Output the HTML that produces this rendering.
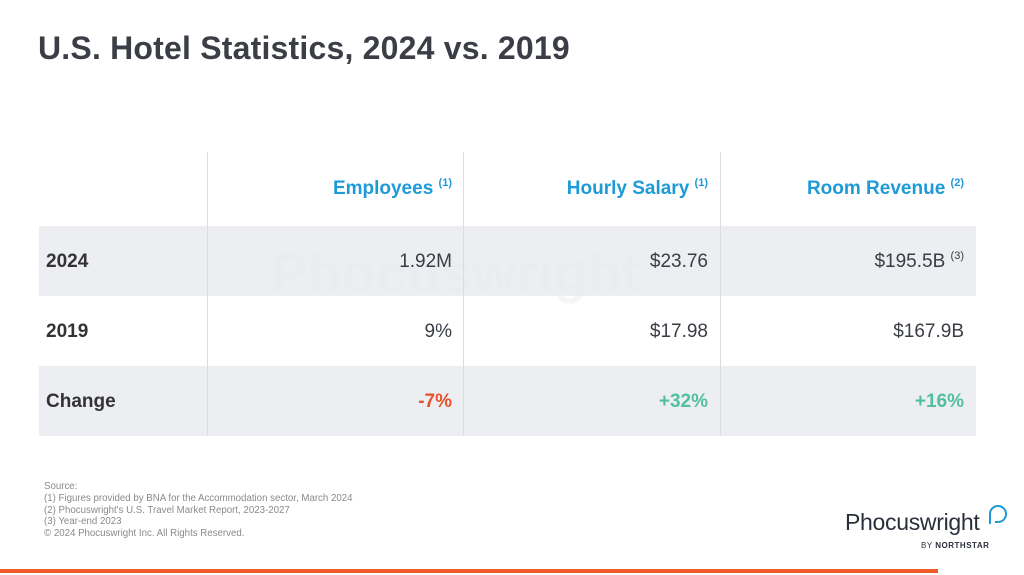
<!DOCTYPE html>
<html><head><meta charset="utf-8"><style>
body{margin:0;width:1024px;height:575px;background:#fff;font-family:"Liberation Sans",sans-serif;position:relative;overflow:hidden;color:#3a3d45}
.abs{position:absolute}
h1{position:absolute;left:38px;top:30px;margin:0;font-size:32px;font-weight:bold;color:#3b3e46;letter-spacing:0.2px}
.row{position:absolute;left:39px;width:937px;height:70px}
.shade{background:#eceef1}
.vl{position:absolute;top:152px;height:284px;width:1px;background:#dcdde0}
.cell{position:absolute;font-size:19px;line-height:20px}
.lab{left:7px;font-weight:bold;color:#333}
.hdr{font-size:19px;font-weight:bold;color:#1e9bd7}
sup{font-size:11px;vertical-align:baseline;position:relative;top:-8px;line-height:0}
.src{left:44px;top:481px;font-size:9.7px;line-height:11.8px;color:#8a8a8a}
</style></head><body>
<h1>U.S. Hotel Statistics, 2024 vs. 2019</h1>
<div class="row shade" style="top:226px"></div>
<div class="row shade" style="top:366px"></div>
<div class="abs" style="left:270px;top:240px;font-size:56px;font-weight:bold;color:#e9ebef;opacity:.4">Phocuswright</div>
<div class="vl" style="left:207px"></div><div class="vl" style="left:463px"></div><div class="vl" style="left:720px"></div>
<div class="cell hdr" style="right:572px;top:179px">Employees <sup>(1)</sup></div>
<div class="cell hdr" style="right:316px;top:179px">Hourly Salary <sup>(1)</sup></div>
<div class="cell hdr" style="right:60px;top:179px">Room Revenue <sup>(2)</sup></div>
<div class="cell lab" style="left:46px;top:252px">2024</div>
<div class="cell lab" style="left:46px;top:322px">2019</div>
<div class="cell lab" style="left:46px;top:392px">Change</div>
<div class="cell" style="right:572px;top:252px">1.92M</div>
<div class="cell" style="right:316px;top:252px">$23.76</div>
<div class="cell" style="right:60px;top:252px">$195.5B <sup>(3)</sup></div>
<div class="cell" style="right:572px;top:322px">9%</div>
<div class="cell" style="right:316px;top:322px">$17.98</div>
<div class="cell" style="right:60px;top:322px">$167.9B</div>
<div class="cell" style="right:572px;top:392px;color:#e8532b;font-weight:bold">-7%</div>
<div class="cell" style="right:316px;top:392px;color:#4fbf9f;font-weight:bold">+32%</div>
<div class="cell" style="right:60px;top:392px;color:#4fbf9f;font-weight:bold">+16%</div>
<div class="abs src">Source:<br>(1) Figures provided by BNA for the Accommodation sector, March 2024<br>(2) Phocuswright's U.S. Travel Market Report, 2023-2027<br>(3) Year-end 2023<br>© 2024 Phocuswright Inc. All Rights Reserved.</div>
<div class="abs" style="left:845px;top:509px;font-size:23px;color:#2a2f3a;letter-spacing:-0.3px">Phocuswright</div>
<svg class="abs" style="left:986px;top:502px" width="24" height="30"><path d="M4 22 L4 12 A8 8 0 1 1 12 20 L9 20" fill="none" stroke="#1e9bd7" stroke-width="2"/></svg>
<div class="abs" style="left:921px;top:541px;font-size:8px;color:#2a2f3a;letter-spacing:.5px">BY <b>NORTHSTAR</b></div>
<div class="abs" style="left:0;top:569px;width:938px;height:4px;background:#f05a28"></div>
</body></html>
